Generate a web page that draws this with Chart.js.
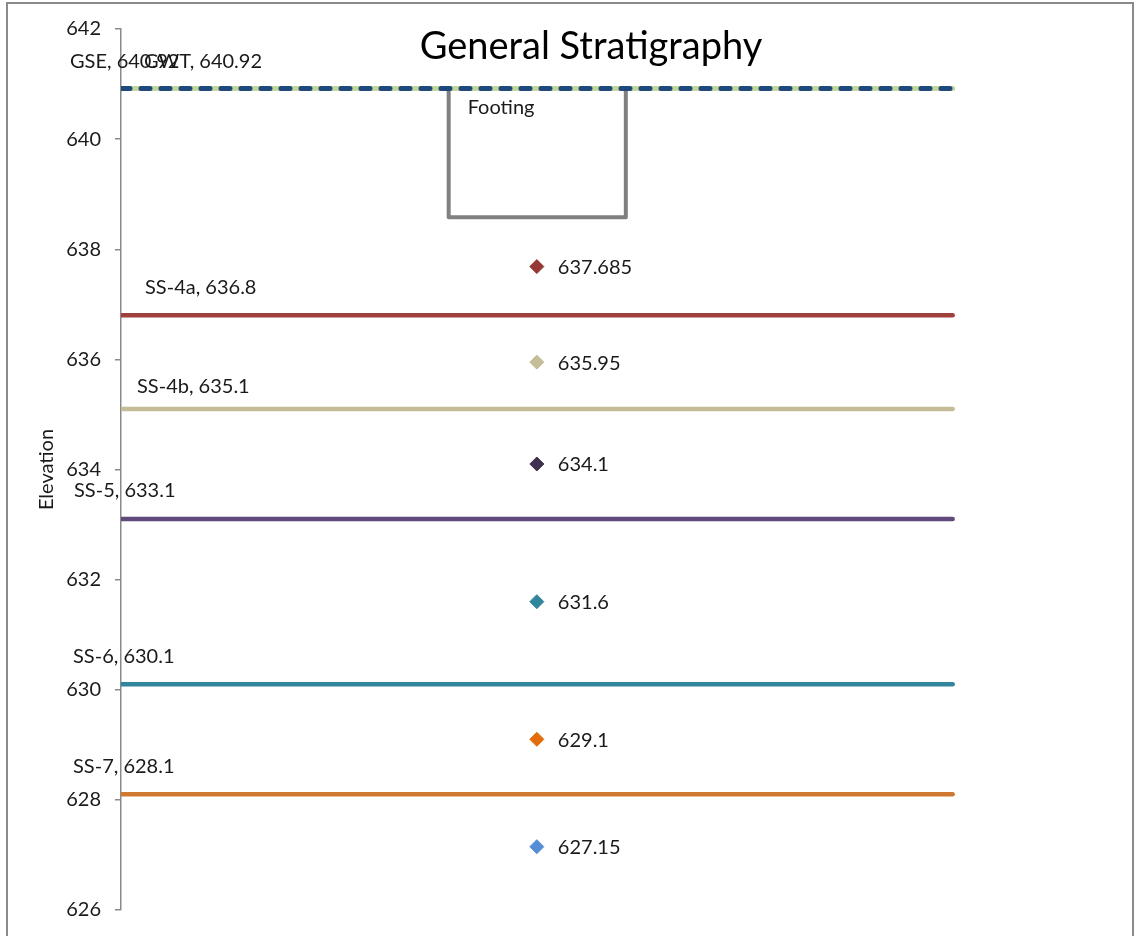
<!DOCTYPE html>
<html>
<head>
<meta charset="utf-8">
<style>
  html, body { margin: 0; padding: 0; background: #fff; }
  #wrap { position: relative; width: 1136px; height: 936px; }
  canvas { display: block; }
</style>
<script src="https://cdn.jsdelivr.net/npm/chart.js@4.4.0/dist/chart.umd.min.js"></script>
</head>
<body>
<div id="wrap"><canvas id="c" width="1136" height="936"></canvas></div>
<script>
// Stratum boundaries (horizontal lines)
const layerNames = ['GWT', 'GSE', 'SS-4a', 'SS-4b', 'SS-5', 'SS-6', 'SS-7'];
const layerElev = [640.92, 640.92, 636.8, 635.1, 633.1, 630.1, 628.1];
const layerStartX = 0;
const layerEndX = 10;

// Sample elevations (diamond markers)
const sampleElev = [637.685, 635.95, 634.1, 631.6, 629.1, 627.15];
const sampleX = 5;

// Footing outline
const footingX = [3.94, 3.94, 6.07, 6.07];
const footingY = [640.92, 638.58, 638.58, 640.92];

// Axis
const yTicks = [626, 628, 630, 632, 634, 636, 638, 640, 642];

const FONT = 'Lato, "Open Sans", sans-serif';
const TITLE = 'General Stratigraphy';

const layerStyle = {
  'GWT':   { color: '#c3d69b', width: 5, dash: [], cap: 'round' },
  'GSE':   { color: '#1f497d', width: 5, dash: [9, 11], cap: 'round' },
  'SS-4a': { color: '#a0403c', width: 4.5, dash: [], cap: 'round' },
  'SS-4b': { color: '#c4bd97', width: 4.5, dash: [], cap: 'round' },
  'SS-5':  { color: '#604a7b', width: 4.5, dash: [], cap: 'round' },
  'SS-6':  { color: '#31859c', width: 4.5, dash: [], cap: 'round' },
  'SS-7':  { color: '#d07830', width: 4.5, dash: [], cap: 'round' }
};
// label offsets from the line's left end (px)
const layerLabelOffset = {
  'GWT':   [23, -27],
  'GSE':   [-51, -27],
  'SS-4a': [24, -28],
  'SS-4b': [16, -22],
  'SS-5':  [-47, -29],
  'SS-6':  [-48, -28],
  'SS-7':  [-48, -28]
};
const sampleColors = ['#953735', '#c4bd97', '#403152', '#31859c', '#e46c0a', '#558ed5'];

const datasets = [];
layerNames.forEach((name, i) => {
  const st = layerStyle[name];
  datasets.push({
    label: name,
    kind: 'layer',
    data: [{ x: layerStartX, y: layerElev[i] }, { x: layerEndX, y: layerElev[i] }],
    showLine: true,
    borderColor: st.color,
    borderWidth: st.width,
    borderDash: st.dash,
    borderCapStyle: st.cap,
    pointRadius: 0,
    fill: false,
    order: 10 - i
  });
});
datasets.push({
  label: 'Footing',
  kind: 'footing',
  data: footingX.map((x, i) => ({ x: x, y: footingY[i] })),
  showLine: true,
  borderColor: '#808080',
  borderWidth: 4,
  borderJoinStyle: 'round',
  borderCapStyle: 'round',
  pointRadius: 0,
  fill: false,
  order: 20
});
sampleElev.forEach((v, i) => {
  datasets.push({
    label: String(v),
    kind: 'sample',
    data: [{ x: sampleX, y: v }],
    showLine: false,
    pointStyle: 'rectRot',
    pointRadius: 7,
    pointHoverRadius: 7,
    backgroundColor: sampleColors[i],
    borderColor: sampleColors[i],
    borderWidth: 1,
    order: 0
  });
});

const labelsPlugin = {
  id: 'stratLabels',
  beforeDraw(chart) {
    const ctx = chart.ctx;
    ctx.save();
    ctx.fillStyle = '#fff';
    ctx.fillRect(0, 0, chart.width, chart.height);
    ctx.strokeStyle = '#8a8a8a';
    ctx.lineWidth = 2;
    ctx.strokeRect(7, 3, 1126, 960);
    // chart title
    ctx.fillStyle = '#000';
    ctx.font = '38px ' + FONT;
    ctx.textAlign = 'center';
    ctx.textBaseline = 'middle';
    ctx.fillText(TITLE, 591, 47);
    ctx.restore();
  },
  afterDatasetsDraw(chart) {
    const ctx = chart.ctx;
    const xs = chart.scales.x, ys = chart.scales.y;
    ctx.save();
    ctx.fillStyle = '#1a1a1a';
    ctx.font = '20px ' + FONT;
    ctx.textBaseline = 'middle';
    ctx.textAlign = 'left';
    chart.data.datasets.forEach(ds => {
      const p = ds.data[0];
      const px = xs.getPixelForValue(p.x), py = ys.getPixelForValue(p.y);
      if (ds.kind === 'layer') {
        const off = layerLabelOffset[ds.label];
        ctx.fillText(ds.label + ', ' + p.y, px + off[0], py + off[1]);
      } else if (ds.kind === 'sample') {
        ctx.fillText(ds.label, px + 21, py + 1);
      } else if (ds.kind === 'footing') {
        ctx.fillText('Footing', px + 19, py + 19);
      }
    });
    ctx.restore();
  }
};

new Chart(document.getElementById('c'), {
  type: 'scatter',
  data: { datasets: datasets },
  options: {
    responsive: false,
    animation: false,
    events: [],
    layout: { padding: { top: 29, bottom: 24, left: 0, right: 17 } },
    plugins: {
      legend: { display: false },
      tooltip: { enabled: false },
      title: { display: false }
    },
    scales: {
      x: {
        type: 'linear',
        min: 0,
        max: 12,
        display: false
      },
      y: {
        type: 'linear',
        min: 626,
        max: 642,
        afterFit(scale) { scale.width = 121; },
        afterBuildTicks(scale) { scale.ticks = yTicks.map(v => ({ value: v })); },
        border: { display: true, color: '#8a8a8a', width: 1.5 },
        grid: { display: true, drawOnChartArea: false, drawTicks: true, tickLength: 6, color: '#8a8a8a', lineWidth: 1.5 },
        ticks: { color: '#1a1a1a', font: { family: FONT, size: 20 }, padding: 14 },
        title: {
          display: true,
          text: 'Elevation',
          color: '#1a1a1a',
          font: { family: FONT, size: 20 },
          padding: { top: 35, bottom: 0 }
        }
      }
    }
  },
  plugins: [labelsPlugin]
});
</script>
</body>
</html>
